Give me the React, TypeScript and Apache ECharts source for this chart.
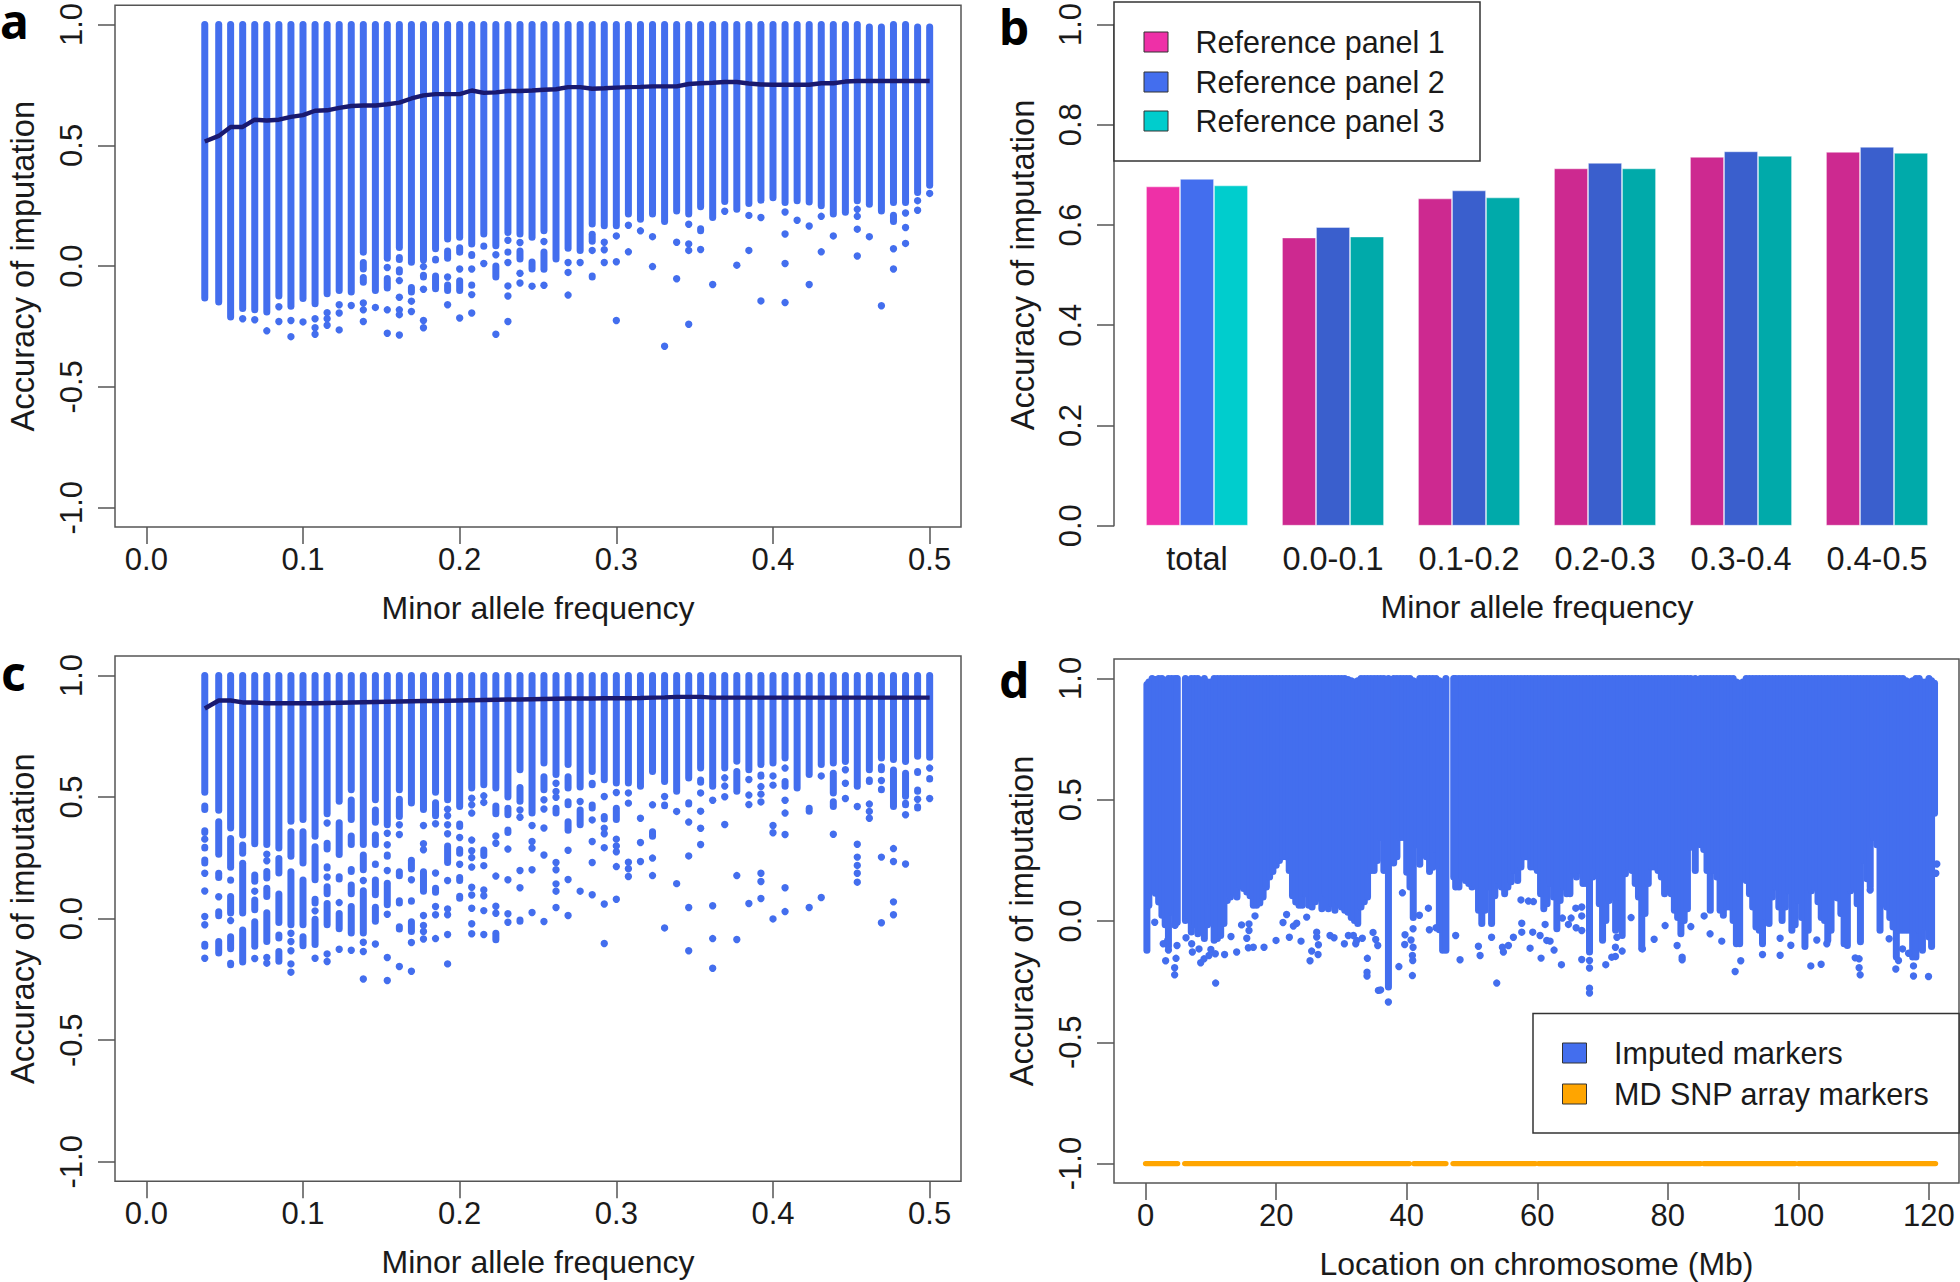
import React, { useEffect, useRef } from "react";
import * as echarts from "echarts";

const FONT = "Liberation Sans";
const POINT = "#436EEE";
const LINE = "#191970";
const BOX = "#555555";

const mafTicks = [0, 0.1, 0.2, 0.3, 0.4, 0.5];
const accTicks = [-1, -0.5, 0, 0.5, 1];
const locTicks = [0, 20, 40, 60, 80, 100, 120];

const maf = [0.0373, 0.0462, 0.0538, 0.0615, 0.0692, 0.0769, 0.0846, 0.0923, 0.1, 0.1077, 0.1154, 0.1231, 0.1308, 0.1385, 0.1462, 0.1538, 0.1615, 0.1692, 0.1769, 0.1846, 0.1923, 0.2, 0.2077, 0.2154, 0.2231, 0.2308, 0.2385, 0.2462, 0.2538, 0.2615, 0.2692, 0.2769, 0.2846, 0.2923, 0.3, 0.3077, 0.3154, 0.3231, 0.3308, 0.3385, 0.3462, 0.3538, 0.3615, 0.3692, 0.3769, 0.3846, 0.3923, 0.4, 0.4077, 0.4154, 0.4231, 0.4308, 0.4385, 0.4462, 0.4538, 0.4615, 0.4692, 0.4769, 0.4846, 0.4923, 0.5];

// Panel a: per column, [high, low] runs of merged points and single points
const aColumns: (number | number[])[][] = [
  [[1, -0.146]],
  [[1, -0.163]],
  [[1, -0.225]],
  [[1, -0.19], -0.218],
  [[1, -0.195], -0.222],
  [[1, -0.204], -0.268],
  [[1, -0.138], -0.168, -0.229],
  [[1, -0.181], -0.225, -0.292],
  [[1, -0.149], [-0.183, -0.211], -0.231],
  [[1, -0.17], -0.218, -0.255, -0.282],
  [[1, -0.129], -0.193, -0.218, -0.245],
  [[1, -0.115], -0.16, -0.194, -0.264],
  [[1, -0.122], -0.163],
  [[1, 0.043], [0.029, -0.026], [-0.033, -0.081], -0.153, -0.181, -0.229],
  [[1, -0.115], -0.171],
  [[1, 0.018], -0.006, [-0.037, -0.105], -0.181, -0.278],
  [[1, 0.063], [0.05, 0.013], [-0.001, -0.039], -0.06, -0.129, -0.181, -0.201, -0.285],
  [[1, 0.002], [-0.035, -0.06], [-0.074, -0.122], -0.145, -0.188],
  [[1, 0.011], -0.002, [-0.023, -0.06], -0.096, -0.225, -0.255],
  [[1, 0.057], [0.043, 0.011], [-0.026, -0.108]],
  [[1, 0.098], [0.077, 0.018], -0.045, [-0.064, -0.115], -0.16],
  [[1, 0.105], [0.091, 0.043], -0.012, [-0.046, -0.115], -0.215],
  [[1, 0.077], [0.063, 0.029], -0.012, [-0.064, -0.094], -0.118, -0.194],
  [[1, 0.118], [0.098, 0.068], 0.011, [-0.019, -0.044]],
  [[1, 0.07], 0.047, [0.015, -0.06], [-0.135, -0.16], -0.282],
  [[1, 0.125], 0.107, [0.073, 0.043], 0.015, -0.082, -0.124, -0.229],
  [[1, 0.118], 0.098, [0.077, 0.015], -0.03, -0.07],
  [[1, 0.105], [0.032, -0.026], -0.083],
  [[1, 0.132], 0.102, [0.073, -0.028], -0.079],
  [[1, 0.015]],
  [[1, 0.059], 0.015, -0.026, -0.12],
  [[1, 0.05], 0.015, [-0.033, -0.053], [-0.108, -0.133]],
  [[1, 0.16], [0.146, 0.088], 0.065, [-0.026, -0.06], [-0.083, -0.105]],
  [[1, 0.153], 0.099, 0.068, 0.015],
  [[1, 0.153], 0.125, [0.076, 0.05], 0.018, -0.225],
  [[1, 0.201], 0.169, 0.059],
  [[1, 0.18], 0.146],
  [[1, 0.201], [0.18, 0.155], 0.122, -0.002],
  [[1, 0.17], -0.332],
  [[1, 0.214], [0.194, 0.166], 0.099, -0.052],
  [[1, 0.201], 0.173, 0.092, 0.065, -0.241],
  [[1, 0.231], [0.169, 0.132], 0.069],
  [[1, 0.187], -0.076],
  [[1, 0.253], 0.227],
  [[1, 0.221], [0.208, 0.187], 0.004],
  [[1, 0.245], 0.21, 0.065],
  [[1, 0.258], 0.201, [0.109, 0.095], -0.144],
  [[1, 0.269], [0.221, 0.208]],
  [[1, 0.249], 0.224, 0.133, 0.011, -0.151],
  [[1, 0.256], 0.19],
  [[1, 0.251], 0.166, -0.076],
  [[1, 0.235], 0.206, 0.059],
  [[1, 0.201], [0.173, 0.146], 0.125],
  [[1, 0.208]],
  [[1, 0.256], 0.235, 0.206, 0.153, 0.042],
  [[0.99, 0.242], 0.122],
  [[0.99, 0.214], -0.164],
  [[1, 0.249], [0.225, 0.17], 0.072, -0.012],
  [[1, 0.249], 0.22, 0.16, 0.094],
  [[0.99, 0.29], 0.271, 0.231],
  [[0.99, 0.32], 0.301],
];
const aMean = [0.516, 0.539, 0.576, 0.576, 0.606, 0.603, 0.606, 0.618, 0.625, 0.643, 0.645, 0.655, 0.663, 0.665, 0.665, 0.67, 0.677, 0.694, 0.707, 0.712, 0.712, 0.712, 0.727, 0.717, 0.719, 0.725, 0.725, 0.727, 0.73, 0.732, 0.741, 0.741, 0.734, 0.736, 0.739, 0.741, 0.742, 0.744, 0.744, 0.744, 0.754, 0.757, 0.759, 0.762, 0.762, 0.756, 0.752, 0.751, 0.751, 0.751, 0.751, 0.757, 0.757, 0.764, 0.766, 0.766, 0.766, 0.766, 0.766, 0.766, 0.766];

// Panel c
const cColumns: (number | number[])[][] = [
  [[1, 0.505], [0.478, 0.434], [0.413, 0.386], [0.376, 0.34], 0.327, [0.308, 0.276], [0.256, 0.214], 0.187, 0.114, [0.05, 0.025], 0.009, -0.025, [-0.091, -0.128], -0.163],
  [[1, 0.431], [0.413, 0.25], [0.201, 0.155], 0.09, [0.043, -0.002], [-0.08, -0.156]],
  [[1, 0.358], [0.344, 0.197], [0.173, 0.143], [0.105, 0.009], -0.008, [-0.06, -0.138], [-0.169, -0.204]],
  [[1, 0.33], [0.317, 0.255], [0.242, 0.009], [-0.032, -0.193]],
  [[1, 0.294], [0.194, 0.139], 0.113, [0.091, 0.022], [0.002, -0.128], -0.164],
  [[1, 0.29], 0.265, 0.238, [0.208, 0.153], [0.139, 0.077], [0.039, -0.108], -0.16, -0.183],
  [[1, 0.276], [0.262, 0.173], [0.116, -0.03], [-0.053, -0.094], [-0.121, -0.19]],
  [[1, 0.386], [0.372, 0.242], [0.207, -0.039], -0.06, -0.094, -0.132, -0.186, -0.22],
  [[1, 0.393], [0.372, 0.214], [0.173, -0.039], [-0.06, -0.126]],
  [[1, 0.324], [0.31, 0.146], [0.094, 0.05], 0.032, [0.012, -0.121], -0.163],
  [[1, 0.417], 0.393, [0.362, 0.338], [0.324, 0.272], [0.228, 0.194], 0.171, [0.146, 0.088], [0.077, -0.039], [-0.094, -0.117], -0.145, -0.176],
  [[1, 0.468], [0.447, 0.427], [0.409, 0.249], [0.228, 0.201], [0.187, 0.149], [0.132, 0.107], 0.066, [0.036, -0.056], -0.126],
  [[1, 0.516], [0.502, 0.393], [0.354, 0.29], [0.269, 0.245], [0.217, 0.18], [0.153, 0.088], [0.064, -0.073], -0.13],
  [[1, 0.29], [0.276, 0.187], 0.157, [0.129, -0.073], -0.097, -0.135, -0.248],
  [[1, 0.475], [0.461, 0.382], [0.358, 0.29], [0.239, 0.208], [0.173, 0.084], [0.061, -0.025], -0.104, [-0.128, -0.153]],
  [[1, 0.372], 0.351, 0.304, [0.276, 0.242], 0.198, [0.16, 0.043], 0.018, [-0.06, -0.087], -0.16, -0.254],
  [[1, 0.516], [0.505, 0.406], 0.386, 0.346, [0.31, 0.286], [0.207, 0.162], [0.146, 0.118], [0.088, 0.05], [-0.019, -0.057], [-0.073, -0.101], -0.197],
  [[1, 0.461], [0.313, 0.29], [0.255, 0.19], 0.16, [0.088, 0.057], [0.002, -0.067], -0.098, -0.216],
  [[1, 0.434], 0.383, [0.362, 0.335], 0.308, 0.283, [0.242, 0.221], [0.207, 0.098], 0.013, -0.028, -0.053, -0.084],
  [[1, 0.505], [0.491, 0.409], 0.39, [0.354, 0.331], [0.303, 0.276], 0.188, [0.139, 0.094], 0.05, 0.016, [-0.036, -0.056], -0.082],
  [[1, 0.475], 0.45, 0.423, 0.386, 0.349, [0.313, 0.217], 0.157, 0.04, 0.016, -0.065, -0.186],
  [[1, 0.447], [0.404, 0.365], 0.334, [0.299, 0.255], 0.224, [0.184, 0.142], [0.107, 0.07], [-0.104, -0.128]],
  [[1, 0.523], 0.495, 0.468, 0.434, [0.4, 0.379], 0.323, 0.279, 0.251, 0.212, 0.129, 0.097, 0.043, -0.021, -0.062],
  [[1, 0.536], 0.505, 0.478, [0.441, 0.42], [0.368, 0.347], [0.297, 0.245], 0.218, [0.157, 0.139], 0.118, 0.094, 0.033, -0.065],
  [[1, 0.523], [0.478, 0.417], 0.34, 0.31, [0.269, 0.249], [0.228, 0.201], 0.175, 0.051, 0.022, [-0.046, -0.101]],
  [[1, 0.486], [0.468, 0.413], [0.379, 0.34], 0.286, [0.249, 0.221], 0.16, 0.02, -0.015],
  [[1, 0.598], [0.584, 0.571], [0.554, 0.468], 0.447, 0.417, [0.372, 0.349], [0.294, 0.269], 0.198, 0.127, [0.009, -0.025]],
  [[1, 0.42], 0.383, 0.317, 0.29, 0.201, [0.149, 0.129], 0.025],
  [[1, 0.626], [0.598, 0.516], 0.489, 0.451, [0.42, 0.399], 0.373, [0.303, 0.286], 0.262, -0.012],
  [[1, 0.578], 0.557, 0.523, 0.499, [0.468, 0.42], 0.231, 0.201, 0.143, 0.113, 0.046],
  [[1, 0.619], [0.598, 0.523], [0.495, 0.454], [0.413, 0.349], 0.281, 0.161, 0.013],
  [[1, 0.527], 0.482, [0.461, 0.372], 0.113],
  [[1, 0.591], [0.571, 0.536], [0.482, 0.441], 0.406, [0.383, 0.362], 0.317, 0.231, 0.098],
  [[1, 0.557], 0.502, [0.434, 0.395], 0.372, 0.349, 0.292, [0.221, 0.194], 0.06, -0.102],
  [[1, 0.543], 0.519, [0.468, 0.393], 0.327, 0.299, 0.275, 0.214, 0.08],
  [[1, 0.543], 0.517, 0.475, 0.232, 0.205, 0.173],
  [[1, 0.53], [0.502, 0.475], 0.413, 0.313, 0.235],
  [[1, 0.591], [0.536, 0.516], 0.468, [0.372, 0.324], 0.249, 0.177],
  [[1, 0.55], 0.502, [0.482, 0.45], [0.395, 0.368], -0.038],
  [[1, 0.509], 0.441, 0.144],
  [[1, 0.564], [0.554, 0.526], [0.491, 0.457], 0.397, 0.258, 0.046, -0.132],
  [[1, 0.605], [0.584, 0.546], 0.517, 0.442, 0.372, 0.305],
  [[1, 0.53], 0.487, [0.338, 0.31], 0.053, -0.082, -0.204],
  [[1, 0.605], 0.579, 0.545, 0.501, 0.387],
  [[1, 0.633], [0.619, 0.509], [0.486, 0.461], [0.431, 0.406], 0.177, -0.086],
  [[1, 0.598], 0.572, 0.508, 0.469, 0.062],
  [[1, 0.619], [0.605, 0.571], 0.543, 0.512, 0.48, 0.187, 0.153, 0.083],
  [[1, 0.626], 0.587, 0.549, [0.527, 0.505], 0.383, 0.353, -0.001],
  [[1, 0.646], 0.619, [0.578, 0.53], 0.487, 0.434, 0.346, 0.127, 0.029],
  [[1, 0.523], [0.509, 0.482]],
  [[1, 0.578], [0.468, 0.427], 0.046],
  [[1, 0.619], 0.587, [0.557, 0.536], [0.516, 0.489], 0.087],
  [[1, 0.626], [0.612, 0.502], [0.495, 0.447], 0.347],
  [[1, 0.632], 0.612, 0.557, [0.532, 0.516], 0.494, [0.434, 0.409]],
  [[1, 0.53], 0.461, [0.4, 0.379], 0.306, 0.253, 0.219, 0.187, 0.15],
  [[1, 0.598], [0.584, 0.55], 0.471, 0.441, 0.413],
  [[1, 0.646], [0.639, 0.598], 0.568, [0.546, 0.516], [0.475, 0.45], 0.253, -0.017],
  [[1, 0.64], [0.626, 0.447], 0.288, 0.235, 0.069, 0.016],
  [[1, 0.632], [0.612, 0.489], [0.489, 0.454], 0.427, 0.225],
  [[1, 0.653], [0.619, 0.587], [0.543, 0.509], 0.491, [0.475, 0.441]],
  [[1, 0.649], 0.619, [0.591, 0.56], 0.494, [0.457, 0.436]],
];
const cMean = [0.864, 0.897, 0.897, 0.889, 0.889, 0.886, 0.886, 0.886, 0.886, 0.886, 0.887, 0.888, 0.889, 0.89, 0.891, 0.892, 0.893, 0.894, 0.895, 0.895, 0.896, 0.897, 0.898, 0.899, 0.9, 0.901, 0.901, 0.902, 0.903, 0.904, 0.905, 0.905, 0.905, 0.906, 0.906, 0.906, 0.907, 0.909, 0.91, 0.912, 0.912, 0.912, 0.909, 0.909, 0.909, 0.909, 0.909, 0.909, 0.909, 0.909, 0.909, 0.909, 0.909, 0.909, 0.909, 0.909, 0.909, 0.909, 0.909, 0.909, 0.909];

// Panel b
const binLabels = ["total", "0.0-0.1", "0.1-0.2", "0.2-0.3", "0.3-0.4", "0.4-0.5"];
const panel1 = [0.677, 0.575, 0.653, 0.713, 0.736, 0.746];
const panel2 = [0.692, 0.596, 0.669, 0.724, 0.747, 0.756];
const panel3 = [0.679, 0.577, 0.655, 0.713, 0.738, 0.744];
const panelNames = ["Reference panel 1", "Reference panel 2", "Reference panel 3"];
const brightColors = ["#EE30A7", "#436EEE", "#00CDCD"];
const darkColors = ["#CD2990", "#3A5FCD", "#00AAAA"];

// Panel d: lowest merged accuracy at each position [Mb, low, optional high]
const dMass = [
  [0.2, -0.135, 0.975], [0.5, 0.05, 0.985], [1, 0.11], [1.5, 0.1, 0.995], [2, 0.064], [2.5, 0.009], [3, -0.03, 0.99], [3.5, -0.12], [4, 0.022], [4.5, -0.03], [4.85, -0.02],
  [6.1, -0.012], [6.5, 0.009, 0.99], [7, -0.06], [7.5, -0.03], [8, -0.067], [8.5, -0.04, 0.99], [9, -0.087], [9.5, -0.03, 0.985], [10, 0.065, 0.985], [10.5, -0.094], [11, -0.087], [11.5, -0.074], [12, -0.025], [12.5, 0.07], [13, 0.084], [13.5, 0.105], [14, 0.084], [14.5, 0.13], [15, 0.12], [15.5, 0.105], [16, 0.09], [16.5, 0.05], [17, 0.05], [17.5, 0.06], [18, 0.084], [18.5, 0.126], [19, 0.167], [19.5, 0.19], [20, 0.215], [20.5, 0.235], [21, 0.25], [21.5, 0.25], [22, 0.194], [22.5, 0.09], [23, 0.064], [23.5, 0.05], [24, 0.05], [24.5, 0.098], [25, 0.05], [25.5, 0.043], [26, 0.065], [26.5, 0.08], [27, 0.036], [27.5, 0.098], [28, 0.036], [28.5, 0.057], [29, 0.03], [29.5, 0.065], [30, 0.043], [30.5, 0.03], [31, 0.022, 0.995], [31.5, 0, 0.99], [32, -0.012, 0.985], [32.5, -0.025, 0.99], [33, 0.043], [33.5, 0.065], [34, 0.085], [34.5, 0.194], [35, 0.194], [35.5, 0.235], [36, 0.33], [36.5, 0.194], [37.2, -0.286], [38, 0.225], [38.5, 0.25], [39, 0.33], [39.5, 0.33], [40, 0.187], [40.5, 0.126], [41, 0, 0.99], [41.5, 0.3, 0.985], [42, 0.22], [42.5, 0.263], [43, 0.25], [43.5, 0.19], [44, 0.207], [44.5, 0.28], [45, -0.05, 0.99], [45.5, -0.135, 0.985], [46, -0.135],
  [47.2, 0.167], [47.5, 0.126], [48, 0.126], [48.5, 0.167], [49, 0.153], [49.5, 0.14], [50, 0.126], [50.5, 0.13], [51, 0.03], [51.5, -0.025], [52, 0.03], [52.5, 0.126], [53, -0.025], [53.5, 0.09], [54, 0.153], [54.5, 0.126], [55, 0.098], [55.5, 0.126], [56, 0.147], [56.5, 0.194], [57, 0.153], [57.5, 0.208], [58, 0.25], [58.5, 0.25], [59, 0.208], [59.5, 0.208], [60, 0.194], [60.5, 0.098], [61, 0.036], [61.5, 0.057], [62, 0.14], [62.5, 0.085], [63, -0.046], [63.5, 0.07], [64, 0.126], [64.5, 0.098], [65, 0.098], [65.5, 0.194], [66, 0.167], [66.5, 0.194], [67, 0.14], [67.5, 0.14], [68, -0.142], [68.5, 0.167], [69, 0.208], [69.5, 0.057], [70, -0.094], [70.5, -0.012], [71, 0.07], [71.5, 0.085], [72, -0.053], [72.5, 0.085], [73, -0.074], [73.5, 0.18], [74, 0.208], [74.5, 0.194], [75, 0.14], [75.5, 0.085], [76, -0.128], [76.5, 0.016], [77, 0.14], [77.5, 0.208], [78, 0.208], [78.5, 0.194], [79, 0.167], [79.5, 0.098], [80, 0.14], [80.5, 0.098], [81, 0.03], [81.5, 0], [82, -0.067], [82.5, -0.012], [83, 0.036], [83.5, 0.29], [84.2, 0.194], [85, 0.3], [85.5, 0.28], [86, 0.194], [86.5, 0.03], [87, 0.194], [87.5, 0.167], [88, 0.03], [88.5, 0.009], [89, 0.043], [89.5, 0.043], [90, -0.012], [90.5, -0.108, 0.985], [91, -0.108, 0.98], [91.5, 0.167, 0.985], [92, 0.153], [92.5, 0.098], [93, 0.043], [93.5, -0.039], [94, -0.053], [94.5, -0.108], [95, 0.002], [95.5, -0.025], [96, 0.085], [96.5, 0.126], [97, 0.043], [97.5, -0.012], [98, 0.043], [98.5, 0.11], [99, -0.053], [99.5, -0.03], [100, 0.07], [100.5, 0], [101, -0.12], [101.5, -0.053], [102, 0.11], [102.5, 0.126], [103, 0.065], [103.5, 0], [104, -0.012], [104.5, -0.094], [105, -0.053], [105.5, 0.085], [106, 0.08], [106.5, 0.016], [107, -0.108], [107.5, -0.115], [108, 0.11], [108.5, 0.126], [109, 0.057], [109.5, -0.1], [110, 0.235], [110.5, 0.16], [111, 0.126], [111.5, 0.33], [112, 0.3], [112.5, -0.053], [113, 0.057], [113.5, 0.043], [114, 0], [114.5, -0.039], [115, -0.163], [115.5, -0.053], [116, -0.053], [116.5, -0.053, 0.99], [117, -0.053, 0.985], [117.5, -0.163, 0.99], [118, -0.163], [118.5, -0.053], [119, -0.135, 0.985], [119.5, -0.039, 0.985], [120, -0.08], [120.4, -0.12, 0.99], [120.85, 0.43, 0.98],
];
const dDots = [
  [1.4, -0.005], [3.07, -0.164], [2.7, -0.094], [3.38, -0.08], [3.5, -0.12], [4.45, -0.193], [4.45, -0.222], [4.66, -0.154], [4.81, -0.101], [4.5, -0.018], [6.19, -0.069], [7.06, -0.094], [7.16, -0.128], [8.18, -0.115], [8.44, -0.172], [8.95, -0.156], [9.71, -0.142], [10, -0.117], [10.68, -0.135], [12.1, -0.138], [10.73, -0.256], [13.08, -0.064], [13.95, -0.128], [14.7, -0.016], [15.84, -0.012], [15.84, -0.039], [15.5, -0.071], [15.74, -0.11], [16.5, -0.108], [18.14, -0.108], [16.76, 0.021], [19.98, -0.08], [21.05, -0.006], [21.6, 0.027], [22.02, -0.067], [22.64, -0.021], [23.15, -0.009], [23.81, -0.083], [25.44, -0.124], [25.19, -0.164], [26.42, -0.138], [26.47, -0.098], [26.21, -0.066], [26.21, -0.046], [24.68, 0.016], [28.25, -0.06], [28.87, -0.069], [30.45, -0.094], [31.06, -0.06], [31.83, -0.06], [32.34, -0.08], [33.2, -0.071], [32.19, -0.094], [34.84, -0.047], [35.25, -0.076], [35.56, -0.101], [33.97, -0.154], [33.92, -0.211], [33.92, -0.227], [35.66, -0.286], [36, -0.284], [37.19, -0.334], [38.8, -0.188], [40.87, -0.225], [40.87, -0.142], [40.92, -0.163], [40.66, -0.078], [40.97, -0.108], [39.69, -0.097], [39.74, -0.057], [40.97, -0.032], [41.94, 0.024], [39.34, 0.116], [43.32, 0.053], [43.47, -0.036], [44.5, -0.028], [47.5, -0.06], [48.17, -0.16], [50.98, -0.104], [51.24, -0.142], [53.79, -0.256], [53, -0.067], [54.81, -0.128], [54.66, -0.108], [55.58, -0.101], [56.34, -0.067], [57.62, -0.046], [57.62, -0.009], [58.9, -0.112], [59.3, -0.046], [60.43, -0.06], [60.58, -0.153], [61.45, -0.08], [57.5, 0.087], [58.64, 0.082], [59.41, 0.08],
  [61.2, -0.014], [61.96, -0.083], [62.57, -0.12], [63.7, -0.18], [63.85, 0.012], [65.18, 0.012], [64.77, -0.014], [65.95, -0.028], [66.81, -0.039], [66.81, -0.159], [66.81, 0.021], [65.9, 0.053], [66.81, 0.058], [68, -0.194], [68, -0.277], [68, -0.297], [68, -0.163], [70.49, -0.18], [71.97, -0.108], [71.97, -0.146], [71.41, -0.149], [73, -0.124], [72.2, -0.067], [74.37, 0.014], [77.9, -0.075], [76.1, -0.115], [79.58, -0.019], [81.42, -0.101], [82.19, -0.149], [82.19, -0.16], [83.52, -0.023], [86.47, -0.053], [88.26, -0.083], [85.56, 0.021], [91.17, -0.164], [90.31, -0.208], [94.5, -0.138], [97.2, -0.071], [97.2, -0.141], [98.84, -0.1], [101.9, -0.185], [103.48, -0.178], [102.82, -0.078], [104.35, -0.094], [108.7, -0.152], [109.3, -0.156], [109.3, -0.193], [109.46, -0.222], [110.99, 0.128], [113.9, -0.073], [114.92, -0.198], [117.63, -0.185], [117.63, -0.227], [119.93, -0.229], [115.95, -0.115], [116.87, -0.133], [115.33, -0.163], [121.2, 0.235], [121.05, 0.197],
];
const arrayRuns = [[0, 4.9], [6, 40.4], [41.1, 46], [47.1, 59.7], [60.2, 85], [85.5, 99.5], [100, 121]];

function runsOf(cols: (number | number[])[][]) {
  const out: number[][] = [];
  cols.forEach((items, i) => items.forEach((it) => { if (Array.isArray(it)) out.push([maf[i], it[1], it[0]]); }));
  return out;
}
function dotsOf(cols: (number | number[])[][]) {
  const out: number[][] = [];
  cols.forEach((items, i) => items.forEach((it) => { if (!Array.isArray(it)) out.push([maf[i], it]); }));
  return out;
}

// vertical run of merged points, from value 1 (low) to value 2 (high)
function vRuns(xAxisIndex: number, data: number[][], color: string, width: number) {
  const r = width / 2;
  return {
    type: "custom", xAxisIndex, yAxisIndex: xAxisIndex, silent: true, clip: false,
    encode: { x: 0, y: [1, 2] }, data,
    renderItem: (_: any, api: any) => {
      const x = api.value(0);
      const lo = api.coord([x, api.value(1)]);
      const hi = api.coord([x, api.value(2)]);
      let y1 = lo[1] - r;
      let y2 = api.value(2) >= 0.97 ? hi[1] : hi[1] + r;
      if (y1 < y2) { y1 = y2 = (lo[1] + hi[1]) / 2; }
      return { type: "line", shape: { x1: lo[0], y1, x2: lo[0], y2 }, style: { stroke: color, lineWidth: width, lineCap: "round", fill: null } };
    },
  };
}
function hRuns(xAxisIndex: number, data: number[][], y: number, color: string, width: number) {
  return {
    type: "custom", xAxisIndex, yAxisIndex: xAxisIndex, silent: true, clip: false,
    encode: { x: [0, 1] }, data,
    renderItem: (_: any, api: any) => {
      const a = api.coord([api.value(0), y]);
      const b = api.coord([api.value(1), y]);
      return { type: "line", shape: { x1: a[0], y1: a[1], x2: b[0], y2: a[1] }, style: { stroke: color, lineWidth: width, lineCap: "round", fill: null } };
    },
  };
}
const dots = (i: number, data: number[][]) => ({
  type: "scatter", xAxisIndex: i, yAxisIndex: i, silent: true, symbol: "circle", symbolSize: 7.4, clip: false,
  itemStyle: { color: POINT, opacity: 1 }, data,
});
const meanLine = (i: number, vals: number[]) => ({
  type: "line", xAxisIndex: i, yAxisIndex: i, silent: true, showSymbol: false, z: 5,
  lineStyle: { color: LINE, width: 4.4 }, data: vals.map((v, k) => [maf[k], v]),
});

const labelX = { fontFamily: FONT, fontSize: 31, color: "#1a1a1a", margin: 17 };
const nameX = { fontFamily: FONT, fontSize: 32, color: "#1a1a1a" };
const labelY = { fontFamily: FONT, fontSize: 31, color: "#1a1a1a", rotate: 90, margin: 28 };
const nameY = { fontFamily: FONT, fontSize: 32.7, color: "#1a1a1a" };
const tickStyle = { lineStyle: { color: BOX, width: 1.5 } };

function valueX(gridIndex: number, min: number, max: number, ticks: number[], name: string) {
  return {
    type: "value", gridIndex, min, max, name, nameLocation: "middle", nameGap: 65, nameTextStyle: nameX,
    axisLine: { show: false, onZero: false }, splitLine: { show: false },
    axisTick: { show: true, length: 17, customValues: ticks, ...tickStyle },
    axisLabel: { ...labelX, customValues: ticks, formatter: (v: number) => (ticks === mafTicks ? v.toFixed(1) : String(v)) },
  };
}
function accY(gridIndex: number) {
  return {
    type: "value", gridIndex, min: -1.08, max: 1.08, name: "Accuracy of imputation", nameLocation: "middle", nameGap: 76.5, nameRotate: 90, nameTextStyle: nameY,
    axisLine: { show: false, onZero: false }, splitLine: { show: false },
    axisTick: { show: true, length: 17, customValues: accTicks, ...tickStyle },
    axisLabel: { ...labelY, customValues: accTicks, formatter: (v: number) => v.toFixed(1) },
  };
}
const barSeries = (idx: number, vals: number[]) => ({
  type: "bar", name: panelNames[idx], xAxisIndex: 1, yAxisIndex: 1, silent: true, barGap: "0%", barCategoryGap: "25%",
  data: vals.map((v, k) => ({ value: v, itemStyle: { color: k === 0 ? brightColors[idx] : darkColors[idx], borderColor: "rgba(255,255,255,0.55)", borderWidth: 0.8 } })),
});
function legendBox(x: number, y: number, w: number, h: number, sx: number, tx: number, rows: { name: string; color: string; cy: number }[]) {
  return [
    { type: "rect", z: 20, shape: { x, y, width: w, height: h }, style: { fill: "#fff", stroke: "#333", lineWidth: 1.5 } },
    ...rows.flatMap((r) => [
      { type: "rect", z: 21, shape: { x: sx, y: r.cy - 10, width: 24, height: 20 }, style: { fill: r.color, stroke: "#333", lineWidth: 1 } },
      { type: "text", z: 21, x: tx, y: r.cy, style: { text: r.name, font: `30.5px "${FONT}"`, fill: "#1a1a1a", textAlign: "left", textVerticalAlign: "middle" } },
    ]),
  ];
}
const letter = (t: string, x: number, y: number) => ({
  type: "text", z: 30, x, y, style: { text: t, font: `bold 48px "Noto Sans"`, fill: "#000", textAlign: "left", textVerticalAlign: "middle" },
});

export default function App() {
  const ref = useRef<HTMLDivElement>(null);
  useEffect(() => {
    document.body.style.margin = "0";
    const chart = echarts.init(ref.current!, undefined, { renderer: "svg" });
    const gridBox = { show: true, borderColor: BOX, borderWidth: 1.5, backgroundColor: "transparent" };
    chart.setOption({
      animation: false,
      backgroundColor: "#ffffff",
      grid: [
        { left: 115, top: 1, width: 846, height: 526, ...gridBox },
        { left: 1129, top: 21.2, width: 816, height: 504.5 },
        { left: 115, top: 656, width: 846, height: 525.3, ...gridBox },
        { left: 1114, top: 659, width: 845, height: 524, ...gridBox },
      ],
      xAxis: [
        valueX(0, -0.02, 0.52, mafTicks, "Minor allele frequency"),
        {
          type: "category", gridIndex: 1, data: binLabels, name: "Minor allele frequency", nameLocation: "middle", nameGap: 65, nameTextStyle: nameX,
          axisLine: { show: false }, axisTick: { show: false }, axisLabel: { ...labelX, fontSize: 32.5, interval: 0 },
        },
        valueX(2, -0.02, 0.52, mafTicks, "Minor allele frequency"),
        valueX(3, -4.84, 124.6, locTicks, "Location on chromosome (Mb)"),
      ],
      yAxis: [
        accY(0),
        {
          type: "value", gridIndex: 1, min: 0, max: 1, interval: 0.2, offset: 15,
          axisLine: { show: true, lineStyle: { color: BOX, width: 1.5 } }, splitLine: { show: false },
          axisTick: { show: true, length: 17, ...tickStyle },
          axisLabel: { ...labelY, formatter: (v: number) => v.toFixed(1) },
        },
        accY(2),
        accY(3),
      ],
      series: [
        vRuns(0, runsOf(aColumns), POINT, 7),
        dots(0, dotsOf(aColumns)),
        meanLine(0, aMean),
        barSeries(0, panel1),
        barSeries(1, panel2),
        barSeries(2, panel3),
        vRuns(2, runsOf(cColumns), POINT, 7),
        dots(2, dotsOf(cColumns)),
        meanLine(2, cMean),
        vRuns(3, dMass.map(([x, l, h]) => [x, l, h === undefined ? 1 : h]), POINT, 7),
        dots(3, dDots),
        hRuns(3, arrayRuns, -1, "#FFA500", 5.4),
      ],
      graphic: [
        ...legendBox(1114, 2, 366, 159, 1144, 1195.5, panelNames.map((name, i) => ({ name, color: brightColors[i], cy: [42, 82, 121][i] }))),
        ...legendBox(1533, 1013.5, 426, 119.5, 1562.5, 1614, [
          { name: "Imputed markers", color: POINT, cy: 1053 },
          { name: "MD SNP array markers", color: "#FFA500", cy: 1094 },
        ]),
        { type: "text", z: 10, x: 1022.5, y: 265, rotation: Math.PI / 2, style: { text: "Accuracy of imputation", font: `32.7px "${FONT}"`, fill: "#1a1a1a", textAlign: "center", textVerticalAlign: "middle" } },
        letter("a", 0, 20),
        letter("b", 999, 26),
        letter("c", 1, 672),
        letter("d", 999, 679),
      ],
    });
    return () => chart.dispose();
  }, []);
  return <div ref={ref} style={{ width: 1960, height: 1282 }} />;
}
